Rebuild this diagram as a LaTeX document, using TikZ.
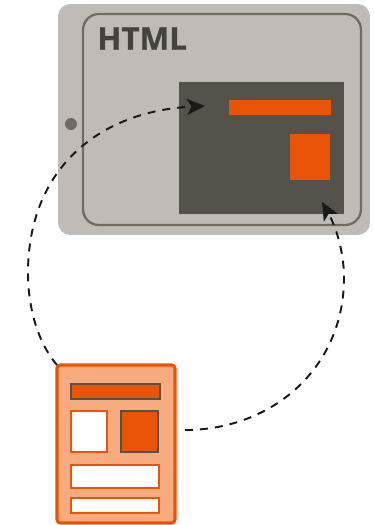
\documentclass[tikz,border=0pt]{standalone}
\usepackage{fontspec}
\setmainfont{Open Sans}
\newfontfamily\titlefont{Open Sans}[BoldFeatures={FakeBold=0.9}]
\usepackage{xcolor}
\usetikzlibrary{arrows.meta,calc}
\definecolor{tabletgrey}{RGB}{192,187,183}
\definecolor{rimgrey}{RGB}{112,107,102}
\definecolor{paneldark}{RGB}{85,81,75}
\definecolor{titledark}{RGB}{70,66,62}
\definecolor{htmlorange}{RGB}{234,84,6}
\definecolor{paperorange}{RGB}{247,172,127}

\begin{document}
\begin{tikzpicture}[x=0.02cm, y=-0.02cm,
    box/.style={rectangle, outer sep=0pt, inner sep=0pt},
    orangebox/.style={box, draw=paneldark, line width=1pt, fill=htmlorange},
    whitebox/.style={box, draw=htmlorange, line width=1.1pt, fill=white},
    flow/.style={dash pattern=on 0.16cm off 0.14cm, line width=1.1pt, black!90,
        -{Stealth[length=3.6mm, width=3.2mm, inset=0.9mm]}}
]
    \useasboundingbox (0,0) rectangle (373,525);

    % tablet
    \node[box, fill=tabletgrey, rounded corners=7pt, minimum width=6.24cm, minimum height=4.62cm] (tablet) at (214,119.5) {};
    \node[box, draw=rimgrey, line width=1.3pt, rounded corners=9pt, minimum width=5.56cm, minimum height=4.22cm] (screen) at (222,119.5) {};
    \node[circle, fill=rimgrey, inner sep=0pt, minimum size=0.24cm] (button) at (71,124) {};
    \node[anchor=west, inner sep=0pt, font=\titlefont\fontsize{17.9}{20}\selectfont\bfseries, text=titledark] (title) at (97,38.5) {HTML};
    \node[box, fill=paneldark, minimum width=3.3cm, minimum height=2.64cm] (panel) at (261.5,148) {};
    \node[orangebox, minimum width=2.08cm, minimum height=0.34cm] (panelbar) at (280,107.5) {};
    \node[orangebox, minimum width=0.84cm, minimum height=0.96cm] (panelsquare) at (310,157) {};

    % page
    \node[box, draw=htmlorange, line width=1.8pt, fill=paperorange, rounded corners=2pt, minimum width=2.36cm, minimum height=3.16cm] (page) at (116,444) {};
    \node[orangebox, minimum width=1.78cm, minimum height=0.3cm] (pagebar) at (115.5,391.5) {};
    \node[whitebox, minimum width=0.72cm, minimum height=0.82cm] (pagewhite) at (89,431.5) {};
    \node[orangebox, minimum width=0.74cm, minimum height=0.82cm] (pagesquare) at (139.5,431.5) {};
    \node[whitebox, minimum width=1.76cm, minimum height=0.46cm] (pageline) at (115,476.5) {};
    \node[whitebox, minimum width=1.76cm, minimum height=0.3cm] (pagefoot) at (115,505.5) {};

    % connectors
    \coordinate (lefttip) at (205,106);
    \coordinate (righttip) at (322,202);
    \coordinate (leftside) at (28,273);
    \coordinate (rightside) at (344,278);
    \draw[flow] (page.north west) .. controls (38,343) and (28,308) .. (leftside)
        .. controls (28,168) and (100,111) .. (lefttip);
    \draw[flow] ($(page.east)+(10,-14)$) .. controls (272,430) and (344,368) .. (rightside)
        .. controls (344,250) and (335,225) .. (righttip);
\end{tikzpicture}
\end{document}
